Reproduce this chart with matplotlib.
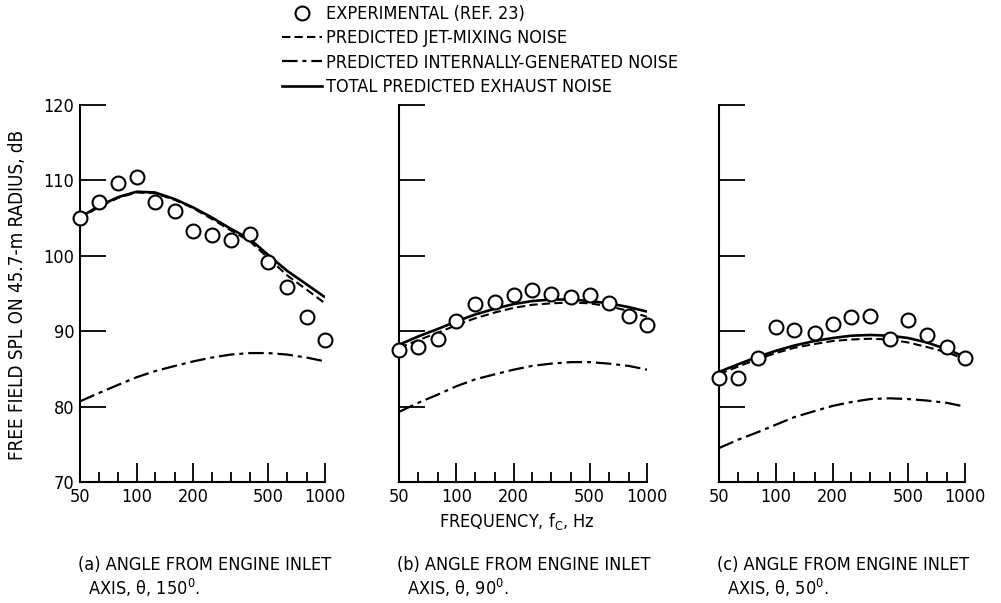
import matplotlib
matplotlib.use('Agg')
import matplotlib.pyplot as plt
from matplotlib.ticker import FixedLocator, NullFormatter, FixedFormatter
from matplotlib.lines import Line2D

plt.rcParams['font.family'] = ['DejaVu Sans']
plt.rcParams['font.stretch'] = 'condensed'
plt.rcParams['font.size'] = 13

# one-third octave band centre frequencies, Hz
freq = [50, 63, 80, 100, 125, 160, 200, 250, 315, 400, 500, 630, 800, 1000]

# (a) 150 deg
exp_a = [105.0, 107.1, 109.7, 110.5, 107.2, 105.9, 103.3, 102.8, 102.1, 102.9, 99.2, 95.9, 91.9, 88.8]
jet_a = [104.9, 106.5, 107.7, 108.4, 108.3, 107.4, 106.3, 104.9, 103.4, 101.9, 99.7, 97.4, 95.5, 93.7]
int_a = [80.7, 81.8, 82.9, 83.9, 84.7, 85.4, 86.0, 86.5, 86.9, 87.1, 87.1, 86.9, 86.5, 86.0]
tot_a = [105.1, 106.6, 107.8, 108.5, 108.4, 107.5, 106.4, 105.1, 103.6, 102.2, 100.1, 98.0, 96.2, 94.5]

# (b) 90 deg
exp_b = [87.5, 87.9, 89.0, 91.3, 93.6, 93.9, 94.8, 95.5, 95.0, 94.6, 94.8, 93.7, 92.0, 90.8]
jet_b = [87.8, 88.8, 89.8, 90.8, 91.7, 92.5, 93.1, 93.5, 93.7, 93.8, 93.7, 93.3, 92.7, 91.9]
int_b = [79.3, 80.5, 81.6, 82.7, 83.6, 84.3, 84.9, 85.4, 85.7, 85.9, 85.9, 85.7, 85.4, 84.9]
tot_b = [88.2, 89.3, 90.3, 91.3, 92.2, 93.0, 93.6, 94.0, 94.2, 94.2, 94.0, 93.7, 93.2, 92.6]

# (c) 50 deg
exp_c = [83.8, 83.8, 86.4, 90.6, 90.2, 89.8, 91.0, 91.9, 92.0, 88.9, 91.5, 89.5, 87.9, 86.5]
jet_c = [84.3, 85.3, 86.3, 87.1, 87.8, 88.3, 88.7, 88.9, 89.0, 88.9, 88.5, 87.9, 87.2, 86.3]
int_c = [74.5, 75.6, 76.6, 77.6, 78.6, 79.4, 80.1, 80.6, 81.0, 81.1, 81.0, 80.8, 80.5, 80.0]
tot_c = [84.6, 85.6, 86.6, 87.4, 88.1, 88.7, 89.1, 89.4, 89.5, 89.4, 89.1, 88.5, 87.6, 86.6]

xmajor = [50, 100, 200, 500, 1000]
xminor = [63, 80, 125, 160, 250, 315, 400, 630, 800]
yticks = [70, 80, 90, 100, 110, 120]

captions = ['(a) ANGLE FROM ENGINE INLET\n  AXIS, \u03b8, 150$^{\\mathregular{0}}$.',
            '(b) ANGLE FROM ENGINE INLET\n  AXIS, \u03b8, 90$^{\\mathregular{0}}$.',
            '(c) ANGLE FROM ENGINE INLET\n  AXIS, \u03b8, 50$^{\\mathregular{0}}$.']

W, H = 1001, 603
fig = plt.figure(figsize=(W / 100, H / 100), dpi=100)

panels = [(80, 245, exp_a, jet_a, int_a, tot_a),
          (399, 248, exp_b, jet_b, int_b, tot_b),
          (719, 246, exp_c, jet_c, int_c, tot_c)]

dash = (4, 2)
dashdot = (7, 2.2, 1.8, 2.2)

for i, (x0, w, e, j, n, t) in enumerate(panels):
    ax = fig.add_axes([x0 / W, 1 - 482 / H, w / W, (482 - 105) / H])
    ax.plot(freq, t, color='k', lw=1.9, solid_capstyle='butt', zorder=3)
    ax.plot(freq, j, color='k', lw=1.5, dashes=dash, zorder=3)
    ax.plot(freq, n, color='k', lw=1.6, dashes=dashdot, zorder=3)
    ax.plot(freq, e, 'o', ms=10, mfc='white', mec='k', mew=1.5, zorder=4, clip_on=False)

    ax.set_xscale('log')
    ax.set_xlim(50, 1000)
    ax.set_ylim(70, 120)
    for s in ['top', 'right']:
        ax.spines[s].set_visible(False)
    for s in ['left', 'bottom']:
        ax.spines[s].set_linewidth(1.5)

    ax.xaxis.set_major_locator(FixedLocator(xmajor))
    ax.xaxis.set_major_formatter(FixedFormatter([str(v) for v in xmajor]))
    ax.xaxis.set_minor_locator(FixedLocator(xminor))
    ax.xaxis.set_minor_formatter(NullFormatter())
    ax.set_yticks(yticks)
    ax.tick_params(axis='x', which='major', direction='in', length=14, width=1.3, pad=4, labelsize=13)
    ax.tick_params(axis='x', which='minor', direction='in', length=7, width=1.3)
    ax.tick_params(axis='y', direction='in', length=19, width=1.3, pad=4, labelsize=13)
    if i > 0:
        ax.set_yticklabels([])

    fig.text((x0 - 2) / W, 1 - 556 / H, captions[i], ha='left', va='top',
             fontsize=13, linespacing=1.15)

fig.text(18 / W, 1 - 295 / H, 'FREE FIELD SPL ON 45.7-m RADIUS, dB',
         rotation=90, ha='center', va='center', fontsize=13.5)
fig.text(517 / W, 1 - 522 / H, 'FREQUENCY, f$_{\\mathregular{C}}$, Hz',
         ha='center', va='center', fontsize=13)

handles = [Line2D([], [], ls='none', marker='o', ms=10, mfc='white', mec='k', mew=1.5),
           Line2D([], [], color='k', lw=1.5, dashes=dash),
           Line2D([], [], color='k', lw=1.6, dashes=dashdot),
           Line2D([], [], color='k', lw=1.9)]
labels = ['EXPERIMENTAL (REF. 23)', 'PREDICTED JET-MIXING NOISE',
          'PREDICTED INTERNALLY-GENERATED NOISE', 'TOTAL PREDICTED EXHAUST NOISE']
fig.legend(handles, labels, loc='upper left', bbox_to_anchor=(282 / W, 1 - 5 / H),
           frameon=False, fontsize=13, handlelength=2.2, handletextpad=0.25,
           labelspacing=0.35, borderpad=0, borderaxespad=0, numpoints=1)

fig.savefig('out.png', dpi=100)
